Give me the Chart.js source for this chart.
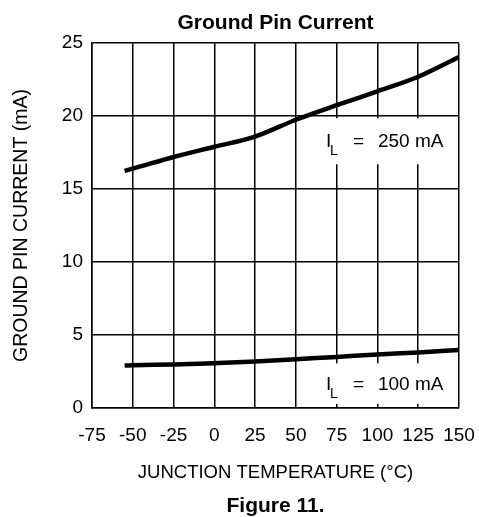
<!DOCTYPE html>
<html>
<head>
<meta charset="utf-8">
<script src="https://cdn.jsdelivr.net/npm/chart.js@4/dist/chart.umd.min.js"></script>
<style>
	body { margin: 0; background: #fff; }
	canvas { display: block; }
</style>
</head>
<body>
<canvas id="chart" width="479" height="517"></canvas>
<script>
const temperature = [-55, -50, -25, 0, 25, 50, 75, 100, 125, 150];
const current250 = [16.25, 16.4, 17.2, 17.9, 18.6, 19.75, 20.75, 21.7, 22.7, 24.05];
const current100 = [2.9, 2.92, 2.97, 3.06, 3.17, 3.33, 3.49, 3.65, 3.8, 3.97];
const tempTicks = [-75, -50, -25, 0, 25, 50, 75, 100, 125, 150];
const currentTicks = [0, 5, 10, 15, 20, 25];

Chart.defaults.font.family = "Liberation Sans";
Chart.defaults.color = "#000";

const toPoints = ys => ys.map((y, i) => ({ x: temperature[i], y: y }));

// white label boxes that break the grid, with I_L text
const loadLabels = {
	id: "loadLabels",
	beforeDatasetsDraw(chart) {
		const { ctx, scales } = chart;
		const boxes = [
			{ x0: 63.5, x1: 148, y0: 19.85, y1: 16.7, text: "250 mA" },
			{ x0: 63.5, x1: 148, y0: 3.05, y1: 0.27, text: "100 mA" },
		];
		ctx.save();
		boxes.forEach(b => {
			const left = scales.x.getPixelForValue(b.x0);
			const right = scales.x.getPixelForValue(b.x1);
			const top = scales.y.getPixelForValue(b.y0);
			const bottom = scales.y.getPixelForValue(b.y1);
			ctx.fillStyle = "#fff";
			ctx.fillRect(left, top, right - left, bottom - top);
			const base = (top + bottom) / 2 + 6;
			ctx.fillStyle = "#000";
			ctx.textBaseline = "alphabetic";
			ctx.textAlign = "left";
			ctx.font = "19px Liberation Sans";
			ctx.fillText("I", left + 8, base);
			ctx.font = "14px Liberation Sans";
			ctx.fillText("L", left + 12, base + 8);
			ctx.font = "19px Liberation Sans";
			ctx.fillText("=", left + 35, base);
			ctx.fillText(b.text, left + 60, base);
		});
		ctx.restore();
	},
};

new Chart(document.getElementById("chart"), {
	type: "line",
	plugins: [loadLabels],
	data: {
		datasets: [
			{
				label: "IL = 250 mA",
				data: toPoints(current250),
				borderColor: "#000",
				borderWidth: 4.5,
				pointRadius: 0,
				cubicInterpolationMode: "monotone",
			},
			{
				label: "IL = 100 mA",
				data: toPoints(current100),
				borderColor: "#000",
				borderWidth: 4.5,
				pointRadius: 0,
				cubicInterpolationMode: "monotone",
			},
		],
	},
	options: {
		responsive: false,
		animation: false,
		layout: { padding: 0 },
		plugins: {
			legend: { display: false },
			tooltip: { enabled: false },
			title: {
				display: true,
				fullSize: false,
				text: "Ground Pin Current",
				font: { size: 21, weight: "bold" },
				padding: { top: 11, bottom: 7 },
			},
			subtitle: {
				display: true,
				fullSize: false,
				position: "bottom",
				text: "Figure 11.",
				font: { size: 21, weight: "bold" },
				color: "#000",
				padding: { top: 8, bottom: -2 },
			},
		},
		scales: {
			x: {
				type: "linear",
				min: -75,
				max: 150,
				afterBuildTicks: scale => {
					scale.ticks = tempTicks.map(v => ({ value: v }));
				},
				afterFit: scale => {
					scale.height = 78;
					scale.paddingRight = 20;
				},
				grid: { color: "#000", lineWidth: 1.5, drawTicks: false },
				border: { color: "#000", width: 1.5 },
				ticks: { font: { size: 19 }, padding: 17, maxRotation: 0 },
				title: {
					display: true,
					text: "JUNCTION TEMPERATURE (°C)",
					font: { size: 18.5 },
					padding: { top: 0, bottom: 2 },
				},
			},
			y: {
				min: 0,
				max: 25,
				afterBuildTicks: scale => {
					scale.ticks = currentTicks.map(v => ({ value: v }));
				},
				afterFit: scale => {
					scale.width = 92;
				},
				grid: { color: "#000", lineWidth: 1.5, drawTicks: false },
				border: { color: "#000", width: 1.5 },
				ticks: { font: { size: 19 }, padding: 9 },
				title: {
					display: true,
					text: "GROUND PIN CURRENT (mA)",
					font: { size: 19.5 },
					padding: { top: 10, bottom: 0 },
				},
			},
		},
	},
});
</script>
</body>
</html>
